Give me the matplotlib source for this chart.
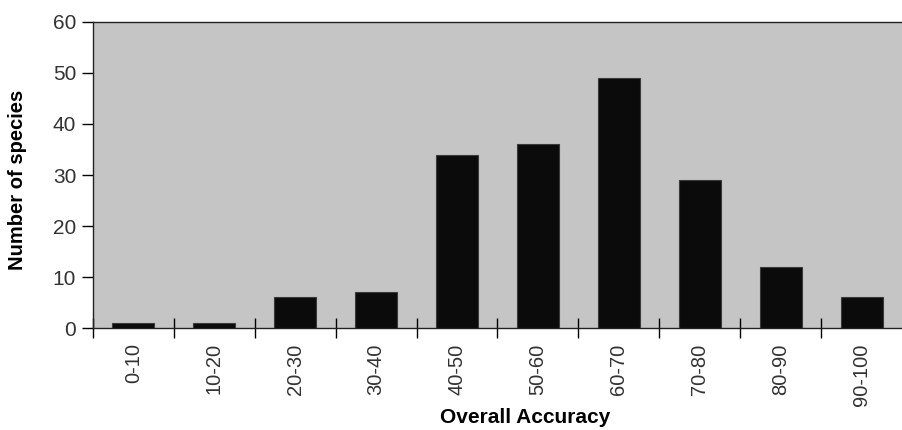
import matplotlib
matplotlib.use("Agg")
from matplotlib import pyplot as plt
import numpy as np

plt.rcParams["font.family"] = ["Liberation Sans", "DejaVu Sans"]

# ------------------------------------------------------------------------ DATA
categories = ["0-10", "10-20", "20-30", "30-40", "40-50",
              "50-60", "60-70", "70-80", "80-90", "90-100"]
counts = [1, 1, 6, 7, 34, 36, 49, 29, 12, 6]
y_ticks = [0, 10, 20, 30, 40, 50, 60]

# ------------------------------------------------------------------------ PLOT
fig = plt.figure(figsize=(9.02, 4.30), dpi=100)
ax = fig.add_axes([0.103, 0.237, 0.897, 0.712])
ax.set_facecolor("#c5c5c5")

x = np.arange(len(categories))
ax.bar(x, counts, width=0.52, color="#0b0b0b", edgecolor="#3a3a3a", linewidth=0.8, zorder=3)

ax.set_xlim(-0.5, len(categories) - 0.5)
ax.set_ylim(0, 60)
ax.set_yticks(y_ticks)
ax.tick_params(axis="y", direction="out", length=8, width=1, labelsize=15,
               labelcolor="#333333", pad=4)

# category labels centred, tick marks at the boundaries
ax.set_xticks(x)
ax.set_xticklabels(categories, rotation=90, fontsize=14.5, color="#333333")
ax.tick_params(axis="x", which="major", length=0, pad=11)
ax.set_xticks(np.arange(len(categories)) - 0.5, minor=True)
ax.tick_params(axis="x", which="minor", direction="inout", length=15, width=1)

for side in ["top", "left", "bottom"]:
    ax.spines[side].set_color("#222222")
    ax.spines[side].set_linewidth(1)
ax.spines["right"].set_visible(False)

ax.set_ylabel("Number of species", fontsize=14.5, fontweight="bold")
ax.yaxis.set_label_coords(-0.081, 0.484)
ax.set_xlabel("Overall Accuracy", fontsize=15, fontweight="bold")
ax.xaxis.set_label_coords(0.534, -0.262)

fig.savefig("out.png", dpi=100)
